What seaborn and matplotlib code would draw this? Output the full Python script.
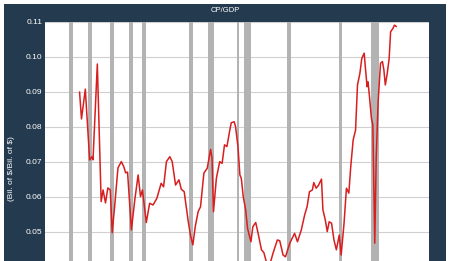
import matplotlib
matplotlib.use("Agg")
import matplotlib.pyplot as plt
import seaborn as sns
import pandas as pd
from matplotlib.patches import Rectangle

# ---- data ----
years = [1947.2, 1947.6, 1948.4, 1949.3, 1949.8, 1950.0, 1950.9, 1951.7, 1952.1, 1952.6,
         1953.1, 1953.6, 1954.0, 1954.5, 1955.2, 1955.9, 1956.4, 1956.8, 1957.2, 1958.0,
         1958.7, 1959.4, 1959.9, 1960.3, 1961.1, 1961.8, 1962.5, 1963.3, 1964.2, 1964.7,
         1965.3, 1966.0, 1966.5, 1967.2, 1967.9, 1968.4, 1969.0, 1969.8, 1970.3, 1970.8,
         1971.3, 1971.9, 1972.4, 1973.1, 1973.8, 1974.5, 1974.8, 1975.1, 1975.7, 1976.4,
         1976.9, 1977.4, 1977.9, 1978.5, 1978.8, 1979.4, 1979.7, 1980.2, 1980.6, 1980.9,
         1981.3, 1981.8, 1982.2, 1982.9, 1983.3, 1983.9, 1984.4, 1985.1, 1985.6, 1986.1,
         1986.8, 1987.5, 1988.4, 1988.9, 1989.6, 1990.1, 1991.0, 1992.0, 1992.6, 1993.4,
         1994.1, 1994.6, 1995.1, 1995.7, 1996.0, 1996.5, 1997.0, 1997.6, 1997.9, 1998.4,
         1998.8, 1999.2, 1999.7, 2000.2, 2000.7, 2001.3, 2001.7, 2002.3, 2002.8, 2003.3,
         2003.7, 2004.2, 2004.7, 2005.1, 2005.6, 2006.0, 2006.5, 2006.7, 2007.1, 2007.3,
         2007.6, 2008.0, 2008.3, 2008.7, 2009.0, 2009.4, 2009.9, 2010.3, 2010.6, 2010.9,
         2011.3, 2011.7, 2012.0, 2012.5, 2012.8, 2013.2]
cp_gdp = [0.0900, 0.0823, 0.0908, 0.0706, 0.0715, 0.0706, 0.0980, 0.0587, 0.0620, 0.0583,
          0.0626, 0.0620, 0.0498, 0.0572, 0.0683, 0.0701, 0.0687, 0.0669, 0.0671, 0.0506,
          0.0591, 0.0663, 0.0601, 0.0620, 0.0527, 0.0582, 0.0577, 0.0596, 0.0639, 0.0629,
          0.0701, 0.0715, 0.0701, 0.0634, 0.0649, 0.0622, 0.0615, 0.0534, 0.0491, 0.0463,
          0.0515, 0.0558, 0.0572, 0.0668, 0.0682, 0.0736, 0.0711, 0.0558, 0.0653, 0.0701,
          0.0696, 0.0749, 0.0744, 0.0791, 0.0812, 0.0815, 0.0801, 0.0744, 0.0663, 0.0653,
          0.0601, 0.0563, 0.0510, 0.0472, 0.0515, 0.0527, 0.0496, 0.0449, 0.0441, 0.0415,
          0.0405, 0.0439, 0.0477, 0.0475, 0.0434, 0.0429, 0.0468, 0.0496, 0.0472, 0.0506,
          0.0549, 0.0572, 0.0615, 0.0620, 0.0641, 0.0625, 0.0634, 0.0651, 0.0563, 0.0534,
          0.0501, 0.0529, 0.0525, 0.0477, 0.0449, 0.0491, 0.0434, 0.0525, 0.0625, 0.0611,
          0.0687, 0.0763, 0.0791, 0.0920, 0.0953, 0.0996, 0.1011, 0.0977, 0.0915, 0.0929,
          0.0887, 0.0825, 0.0806, 0.0468, 0.0711, 0.0872, 0.0982, 0.0987, 0.0963, 0.0920,
          0.0953, 0.0996, 0.1072, 0.1082, 0.1091, 0.1087]

rec_start = [1945.1, 1948.9, 1953.5, 1957.6, 1960.3, 1969.9, 1973.9, 1980.0, 1981.5, 1990.5, 2001.2, 2007.9]
rec_end   = [1945.8, 1949.8, 1954.4, 1958.3, 1961.1, 1970.9, 1975.2, 1980.5, 1982.9, 1991.2, 2001.9, 2009.5]

yticks = [0.05, 0.06, 0.07, 0.08, 0.09, 0.10, 0.11]
ytick_labels = ["0.05", "0.06", "0.07", "0.08", "0.09", "0.10", "0.11"]

title = "CP/GDP"
ylabel = "(Bil. of $/Bil. of $)"

# ---- style ----
sns.set_theme(style="white")
plt.rcParams['font.family'] = ['Liberation Sans', 'DejaVu Sans']

NAVY = "#243a4e"
W, H = 450, 261
fig = plt.figure(figsize=(W / 100, H / 100), dpi=100, facecolor="white")

# navy frame (behind the axes)
frame = fig.add_axes([4 / W, 0, 442 / W, 257 / H], zorder=0)
frame.add_patch(Rectangle((0, 0), 1, 1, transform=frame.transAxes,
                          facecolor=NAVY, edgecolor="none"))
frame.set_axis_off()

ax = fig.add_axes([45 / W, 0, 384 / W, 1 - 22 / H], zorder=2)
ax.set_facecolor("white")

for s, e in zip(rec_start, rec_end):
    ax.axvspan(s, e, color="#b3b3b3", lw=0, zorder=1)

df = pd.DataFrame({"year": years, "value": cp_gdp})
sns.lineplot(data=df, x="year", y="value", ax=ax, color="#d81e1e", lw=1.1, zorder=3)

ax.set_xlim(1940, 2020)
ax.set_ylim(0.0417, 0.11)
ax.set_yticks(yticks)
ax.set_yticklabels(ytick_labels)
ax.set_xticks([])
ax.yaxis.grid(True, color="#d0d0d0", lw=0.8, zorder=0)
ax.set_axisbelow(True)
ax.tick_params(axis="y", colors="white", labelsize=6, length=0, pad=2)
for sp in ax.spines.values():
    sp.set_visible(False)
ax.set_xlabel("")
ax.set_ylabel("")

fig.text(225 / W, 1 - 10 / H, title, color="white", fontsize=5.5, ha="center", va="center")
fig.text(12 / W, 1 - 169 / H, ylabel, color="white", fontsize=6, rotation=90,
         ha="center", va="center", parse_math=False)

fig.savefig("out.png", dpi=100, facecolor="white")
